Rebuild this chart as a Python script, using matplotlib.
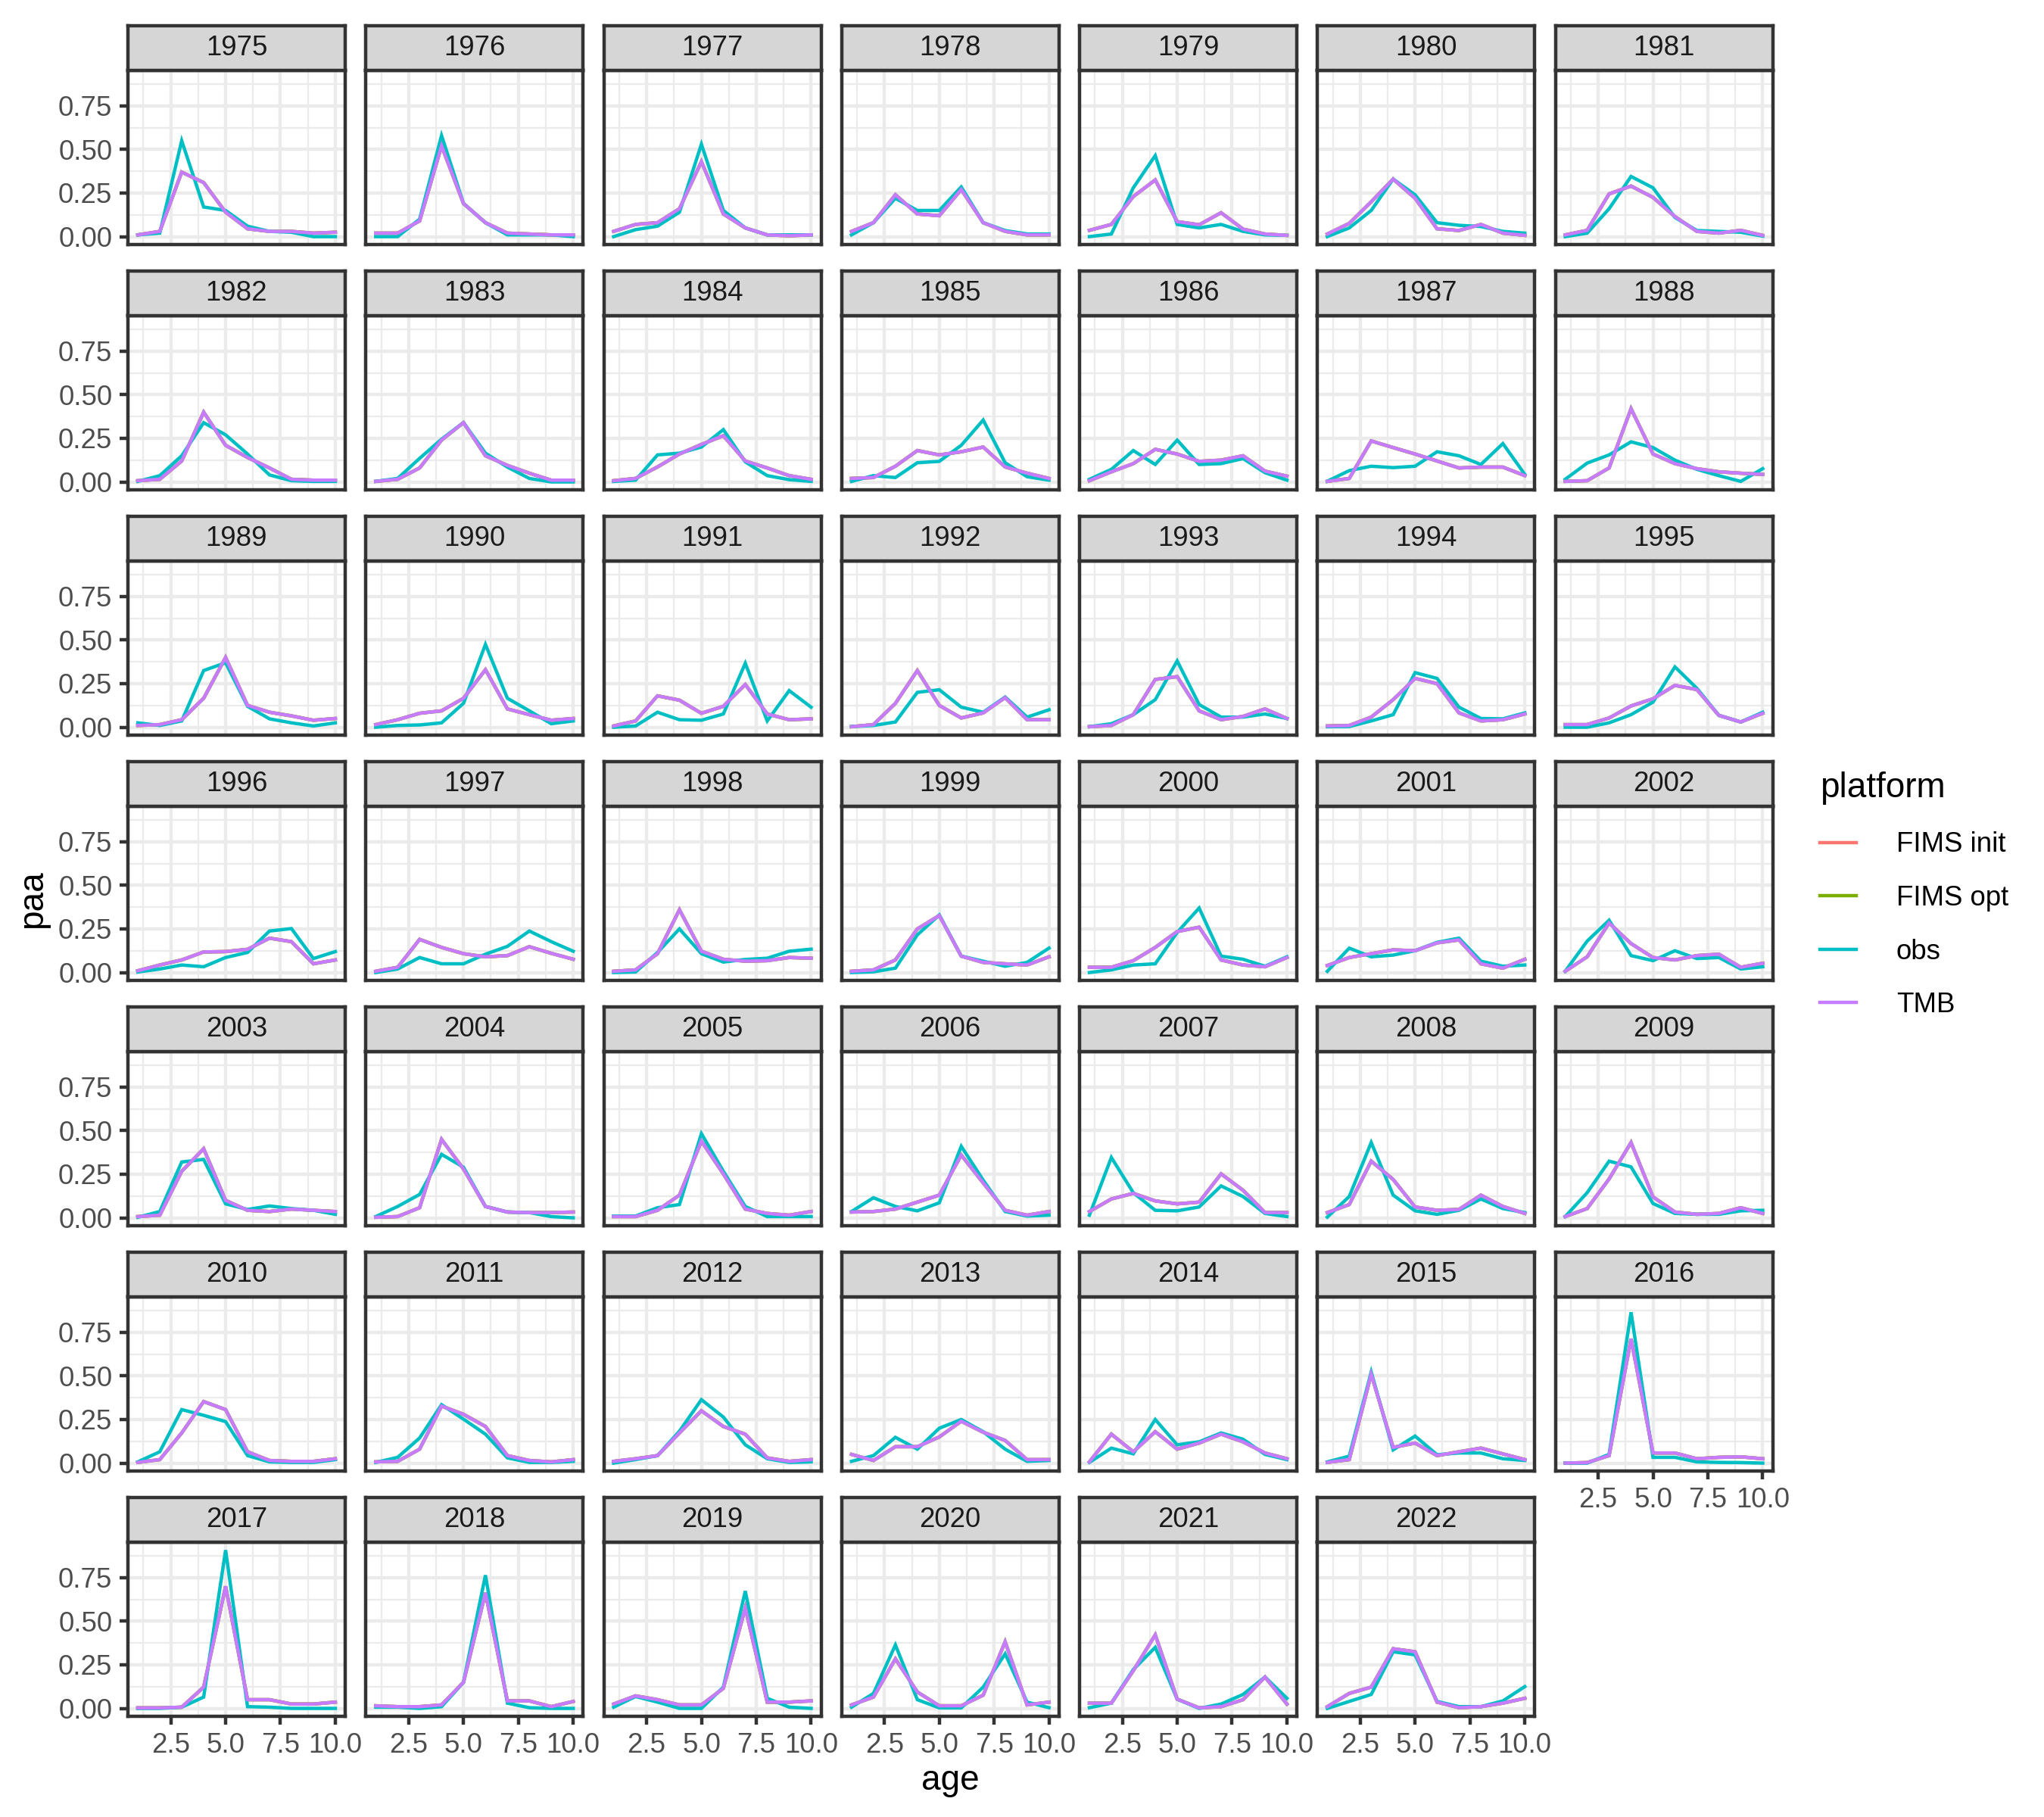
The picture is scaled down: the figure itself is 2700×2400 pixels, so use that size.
import numpy as np
import matplotlib.pyplot as plt
from matplotlib.lines import Line2D

plt.rcParams['font.family'] = ['Liberation Sans', 'DejaVu Sans']

# --- data ---
years = list(range(1975, 2023))
ages = np.arange(1, 11)

obs_paa = [
    [0.01, 0.02, 0.55, 0.17, 0.15, 0.06, 0.03, 0.025, 0.00, 0.00],
    [0.00, 0.00, 0.10, 0.58, 0.19, 0.08, 0.01, 0.01, 0.01, 0.00],
    [0.00, 0.04, 0.06, 0.14, 0.53, 0.15, 0.05, 0.01, 0.01, 0.01],
    [0.01, 0.08, 0.22, 0.15, 0.15, 0.285, 0.08, 0.035, 0.015, 0.015],
    [0.00, 0.015, 0.28, 0.465, 0.07, 0.05, 0.07, 0.03, 0.01, 0.007],
    [0.00, 0.05, 0.15, 0.33, 0.24, 0.08, 0.065, 0.058, 0.03, 0.02],
    [0.00, 0.02, 0.16, 0.345, 0.28, 0.11, 0.035, 0.03, 0.025, 0.003],
    [0.003, 0.036, 0.15, 0.34, 0.27, 0.16, 0.04, 0.007, 0.003, 0.003],
    [0.003, 0.02, 0.135, 0.245, 0.34, 0.165, 0.085, 0.02, 0.0, 0.0],
    [0.003, 0.01, 0.155, 0.165, 0.2, 0.30, 0.115, 0.036, 0.013, 0.003],
    [0.003, 0.036, 0.025, 0.11, 0.118, 0.21, 0.355, 0.11, 0.03, 0.01],
    [0.015, 0.072, 0.18, 0.10, 0.24, 0.10, 0.105, 0.134, 0.053, 0.01],
    [0.004, 0.065, 0.09, 0.082, 0.09, 0.173, 0.15, 0.10, 0.22, 0.043],
    [0.015, 0.108, 0.155, 0.23, 0.197, 0.125, 0.072, 0.036, 0.003, 0.076],
    [0.025, 0.01, 0.036, 0.325, 0.37, 0.12, 0.048, 0.025, 0.007, 0.025],
    [0.0, 0.01, 0.013, 0.025, 0.137, 0.475, 0.166, 0.094, 0.02, 0.036],
    [0.0, 0.007, 0.086, 0.043, 0.04, 0.076, 0.367, 0.036, 0.21, 0.115],
    [0.004, 0.01, 0.03, 0.2, 0.215, 0.115, 0.086, 0.173, 0.058, 0.10],
    [0.003, 0.02, 0.072, 0.158, 0.38, 0.13, 0.058, 0.058, 0.076, 0.05],
    [0.003, 0.004, 0.036, 0.072, 0.313, 0.28, 0.115, 0.05, 0.048, 0.082],
    [0.0, 0.0, 0.025, 0.072, 0.144, 0.346, 0.223, 0.068, 0.03, 0.086],
    [0.003, 0.02, 0.043, 0.033, 0.086, 0.115, 0.238, 0.252, 0.08, 0.12],
    [0.0, 0.02, 0.086, 0.05, 0.05, 0.105, 0.15, 0.238, 0.177, 0.122],
    [0.0, 0.003, 0.115, 0.25, 0.108, 0.06, 0.075, 0.082, 0.122, 0.134],
    [0.0, 0.004, 0.025, 0.216, 0.33, 0.094, 0.065, 0.036, 0.058, 0.14],
    [0.0, 0.015, 0.043, 0.05, 0.23, 0.37, 0.094, 0.076, 0.036, 0.09],
    [0.007, 0.14, 0.09, 0.10, 0.125, 0.173, 0.197, 0.065, 0.036, 0.043],
    [0.007, 0.18, 0.30, 0.097, 0.068, 0.125, 0.08, 0.086, 0.02, 0.033],
    [0.003, 0.036, 0.32, 0.335, 0.08, 0.048, 0.068, 0.053, 0.043, 0.02],
    [0.007, 0.065, 0.134, 0.364, 0.29, 0.065, 0.033, 0.03, 0.007, 0.0],
    [0.01, 0.01, 0.058, 0.076, 0.483, 0.267, 0.065, 0.007, 0.007, 0.007],
    [0.036, 0.115, 0.065, 0.04, 0.086, 0.41, 0.216, 0.036, 0.01, 0.015],
    [0.015, 0.346, 0.144, 0.043, 0.04, 0.062, 0.183, 0.122, 0.025, 0.007],
    [0.004, 0.122, 0.432, 0.13, 0.04, 0.02, 0.043, 0.108, 0.053, 0.03],
    [0.007, 0.144, 0.325, 0.292, 0.082, 0.025, 0.02, 0.02, 0.04, 0.043],
    [0.007, 0.065, 0.307, 0.274, 0.238, 0.043, 0.007, 0.004, 0.004, 0.02],
    [0.004, 0.033, 0.144, 0.335, 0.252, 0.166, 0.03, 0.004, 0.004, 0.01],
    [0.0, 0.02, 0.043, 0.183, 0.364, 0.264, 0.105, 0.025, 0.004, 0.007],
    [0.01, 0.043, 0.148, 0.08, 0.2, 0.25, 0.18, 0.08, 0.01, 0.015],
    [0.004, 0.086, 0.053, 0.25, 0.105, 0.122, 0.173, 0.137, 0.05, 0.02],
    [0.007, 0.04, 0.523, 0.076, 0.155, 0.048, 0.058, 0.058, 0.025, 0.015],
    [0.0, 0.0, 0.05, 0.865, 0.033, 0.033, 0.007, 0.004, 0.003, 0.0],
    [0.0, 0.0, 0.007, 0.065, 0.908, 0.01, 0.007, 0.0, 0.0, 0.0],
    [0.007, 0.007, 0.0, 0.01, 0.15, 0.764, 0.03, 0.004, 0.0, 0.0],
    [0.007, 0.068, 0.036, 0.0, 0.0, 0.122, 0.673, 0.058, 0.007, 0.0],
    [0.007, 0.086, 0.364, 0.05, 0.003, 0.003, 0.122, 0.313, 0.036, 0.004],
    [0.004, 0.03, 0.223, 0.35, 0.053, 0.0, 0.025, 0.08, 0.18, 0.058],
    [0.0, 0.04, 0.08, 0.325, 0.307, 0.04, 0.01, 0.01, 0.043, 0.125],
]

tmb_paa = [
    [0.01, 0.03, 0.37, 0.31, 0.14, 0.045, 0.03, 0.03, 0.02, 0.025],
    [0.02, 0.02, 0.09, 0.52, 0.19, 0.08, 0.02, 0.015, 0.01, 0.01],
    [0.03, 0.07, 0.08, 0.16, 0.43, 0.13, 0.05, 0.01, 0.005, 0.01],
    [0.03, 0.08, 0.24, 0.13, 0.12, 0.27, 0.08, 0.03, 0.01, 0.01],
    [0.036, 0.07, 0.23, 0.325, 0.086, 0.068, 0.137, 0.043, 0.015, 0.007],
    [0.015, 0.076, 0.2, 0.33, 0.22, 0.045, 0.035, 0.07, 0.02, 0.007],
    [0.01, 0.036, 0.245, 0.29, 0.225, 0.115, 0.03, 0.02, 0.036, 0.007],
    [0.007, 0.015, 0.12, 0.40, 0.21, 0.14, 0.08, 0.015, 0.01, 0.01],
    [0.003, 0.015, 0.08, 0.24, 0.34, 0.15, 0.095, 0.05, 0.01, 0.01],
    [0.007, 0.02, 0.086, 0.16, 0.215, 0.265, 0.12, 0.08, 0.036, 0.015],
    [0.02, 0.025, 0.09, 0.18, 0.155, 0.173, 0.2, 0.086, 0.05, 0.02],
    [0.007, 0.058, 0.105, 0.187, 0.16, 0.118, 0.125, 0.15, 0.062, 0.033],
    [0.003, 0.02, 0.235, 0.197, 0.16, 0.12, 0.08, 0.085, 0.085, 0.036],
    [0.003, 0.007, 0.08, 0.42, 0.16, 0.105, 0.076, 0.058, 0.05, 0.043],
    [0.01, 0.015, 0.043, 0.166, 0.40, 0.125, 0.086, 0.065, 0.04, 0.05],
    [0.015, 0.043, 0.08, 0.094, 0.166, 0.33, 0.105, 0.072, 0.04, 0.05],
    [0.007, 0.036, 0.18, 0.155, 0.08, 0.12, 0.245, 0.076, 0.043, 0.048],
    [0.003, 0.015, 0.137, 0.325, 0.125, 0.053, 0.082, 0.17, 0.043, 0.043],
    [0.003, 0.01, 0.072, 0.274, 0.29, 0.094, 0.043, 0.062, 0.105, 0.05],
    [0.007, 0.01, 0.058, 0.158, 0.28, 0.25, 0.082, 0.036, 0.043, 0.076],
    [0.015, 0.015, 0.053, 0.122, 0.163, 0.24, 0.216, 0.068, 0.03, 0.08],
    [0.01, 0.043, 0.072, 0.118, 0.12, 0.133, 0.197, 0.177, 0.05, 0.072],
    [0.007, 0.03, 0.19, 0.144, 0.108, 0.09, 0.097, 0.148, 0.11, 0.076],
    [0.007, 0.015, 0.108, 0.36, 0.122, 0.076, 0.065, 0.068, 0.086, 0.082],
    [0.007, 0.015, 0.072, 0.25, 0.327, 0.094, 0.058, 0.05, 0.043, 0.09],
    [0.03, 0.03, 0.068, 0.144, 0.235, 0.26, 0.072, 0.043, 0.033, 0.086],
    [0.04, 0.086, 0.108, 0.13, 0.125, 0.17, 0.187, 0.05, 0.025, 0.076],
    [0.007, 0.09, 0.284, 0.166, 0.086, 0.072, 0.097, 0.105, 0.03, 0.053],
    [0.007, 0.015, 0.267, 0.396, 0.10, 0.043, 0.036, 0.05, 0.043, 0.036],
    [0.003, 0.007, 0.058, 0.45, 0.28, 0.065, 0.033, 0.03, 0.03, 0.033],
    [0.007, 0.007, 0.043, 0.13, 0.44, 0.252, 0.05, 0.025, 0.015, 0.036],
    [0.033, 0.036, 0.05, 0.09, 0.13, 0.36, 0.2, 0.043, 0.015, 0.036],
    [0.036, 0.108, 0.14, 0.097, 0.08, 0.09, 0.252, 0.158, 0.03, 0.03],
    [0.03, 0.076, 0.325, 0.22, 0.062, 0.043, 0.048, 0.13, 0.065, 0.025],
    [0.007, 0.053, 0.223, 0.432, 0.12, 0.033, 0.02, 0.025, 0.058, 0.025],
    [0.004, 0.02, 0.173, 0.353, 0.307, 0.065, 0.015, 0.01, 0.01, 0.025],
    [0.007, 0.01, 0.08, 0.327, 0.28, 0.21, 0.043, 0.015, 0.007, 0.02],
    [0.01, 0.025, 0.043, 0.173, 0.30, 0.21, 0.166, 0.03, 0.01, 0.02],
    [0.05, 0.015, 0.094, 0.094, 0.15, 0.24, 0.177, 0.13, 0.02, 0.02],
    [0.007, 0.166, 0.065, 0.18, 0.08, 0.115, 0.166, 0.122, 0.058, 0.025],
    [0.004, 0.02, 0.51, 0.09, 0.115, 0.043, 0.065, 0.086, 0.053, 0.02],
    [0.0, 0.003, 0.043, 0.713, 0.058, 0.058, 0.025, 0.033, 0.036, 0.025],
    [0.003, 0.003, 0.007, 0.122, 0.70, 0.05, 0.05, 0.025, 0.025, 0.036],
    [0.015, 0.01, 0.01, 0.02, 0.15, 0.663, 0.043, 0.043, 0.01, 0.04],
    [0.025, 0.072, 0.05, 0.02, 0.02, 0.115, 0.576, 0.036, 0.036, 0.043],
    [0.02, 0.065, 0.284, 0.094, 0.015, 0.015, 0.076, 0.382, 0.02, 0.036],
    [0.03, 0.03, 0.216, 0.422, 0.053, 0.003, 0.01, 0.05, 0.18, 0.025],
    [0.01, 0.086, 0.122, 0.342, 0.325, 0.036, 0.004, 0.01, 0.03, 0.058],
]

# the FIMS runs are hidden under the TMB line in the figure
fims_init_paa = tmb_paa
fims_opt_paa = tmb_paa

platforms = ['FIMS init', 'FIMS opt', 'obs', 'TMB']
colors = ['#F8766D', '#7CAE00', '#00BFC4', '#C77CFF']
series = [fims_init_paa, fims_opt_paa, obs_paa, tmb_paa]

# --- layout (pixels of a 2700x2400 canvas) ---
W, H = 2700, 2400
ncol = 7
left0, col_pitch, pan_w = 169, 314.25, 287
top0, row_pitch, pan_h, strip_h = 93, 324, 230, 59

lw = 1.07
grey20, grey30, grey92 = '#333333', '#4D4D4D', '#EBEBEB'

allv = np.concatenate([np.ravel(s) for s in series])
ypad = 0.05 * (allv.max() - allv.min())
ylim = (allv.min() - ypad, allv.max() + ypad)

fig = plt.figure(figsize=(9, 8), dpi=300)

n = len(years)
for i, yr in enumerate(years):
    r, c = divmod(i, ncol)
    x0 = left0 + c * col_pitch
    ptop = top0 + r * row_pitch
    ax = fig.add_axes([x0 / W, 1 - (ptop + pan_h) / H, pan_w / W, pan_h / H])

    for vals, col in zip(series, colors):
        ax.plot(ages, vals[i], color=col, lw=lw, solid_joinstyle='miter')

    ax.set_xlim(0.55, 10.45)
    ax.set_ylim(*ylim)
    ax.set_xticks([2.5, 5, 7.5, 10])
    ax.set_xticks([1.25, 3.75, 6.25, 8.75], minor=True)
    ax.set_yticks([0, 0.25, 0.5, 0.75])
    ax.set_yticks([0.125, 0.375, 0.625, 0.875], minor=True)
    ax.set_xticklabels(['2.5', '5.0', '7.5', '10.0'])
    ax.set_yticklabels(['0.00', '0.25', '0.50', '0.75'])
    ax.grid(which='major', color=grey92, lw=lw)
    ax.grid(which='minor', color=grey92, lw=lw / 2)
    ax.set_axisbelow(True)
    for sp in ax.spines.values():
        sp.set_color(grey20)
        sp.set_linewidth(lw)

    ax.tick_params(which='minor', length=0)
    ax.tick_params(which='major', length=2.75, width=lw, color=grey20,
                   labelsize=8.8, labelcolor=grey30, pad=2.2)
    # x axis only where no panel sits below, y axis only on first column
    if i + ncol < n:
        ax.tick_params(axis='x', which='major', length=0, labelbottom=False)
    if c != 0:
        ax.tick_params(axis='y', which='major', length=0, labelleft=False)

    # strip
    sax = fig.add_axes([x0 / W, 1 - ptop / H, pan_w / W, strip_h / H])
    sax.set_facecolor('#D6D6D6')
    sax.set_xticks([])
    sax.set_yticks([])
    for sp in sax.spines.values():
        sp.set_color(grey20)
        sp.set_linewidth(lw)
    sax.text(0.5, 0.5, str(yr), ha='center', va='center', fontsize=8.8,
             color='#1A1A1A', transform=sax.transAxes)

fig.text(43 / W, 1 - 1188 / H, 'paa', rotation=90, ha='center', va='center', fontsize=11)
fig.text(1255 / W, 1 - 2352 / H, 'age', ha='center', va='center', fontsize=11)

handles = [Line2D([], [], color=col, lw=lw) for col in colors]
fig.legend(handles, platforms, loc='center left',
           bbox_to_anchor=(2404 / W, 1 - 1182 / H), frameon=False,
           title='platform', title_fontsize=11, fontsize=8.8, alignment='left',
           handlelength=1.3, handletextpad=1.45, labelspacing=0.97,
           borderaxespad=0, borderpad=0)

plt.savefig('out.png', dpi=300)
